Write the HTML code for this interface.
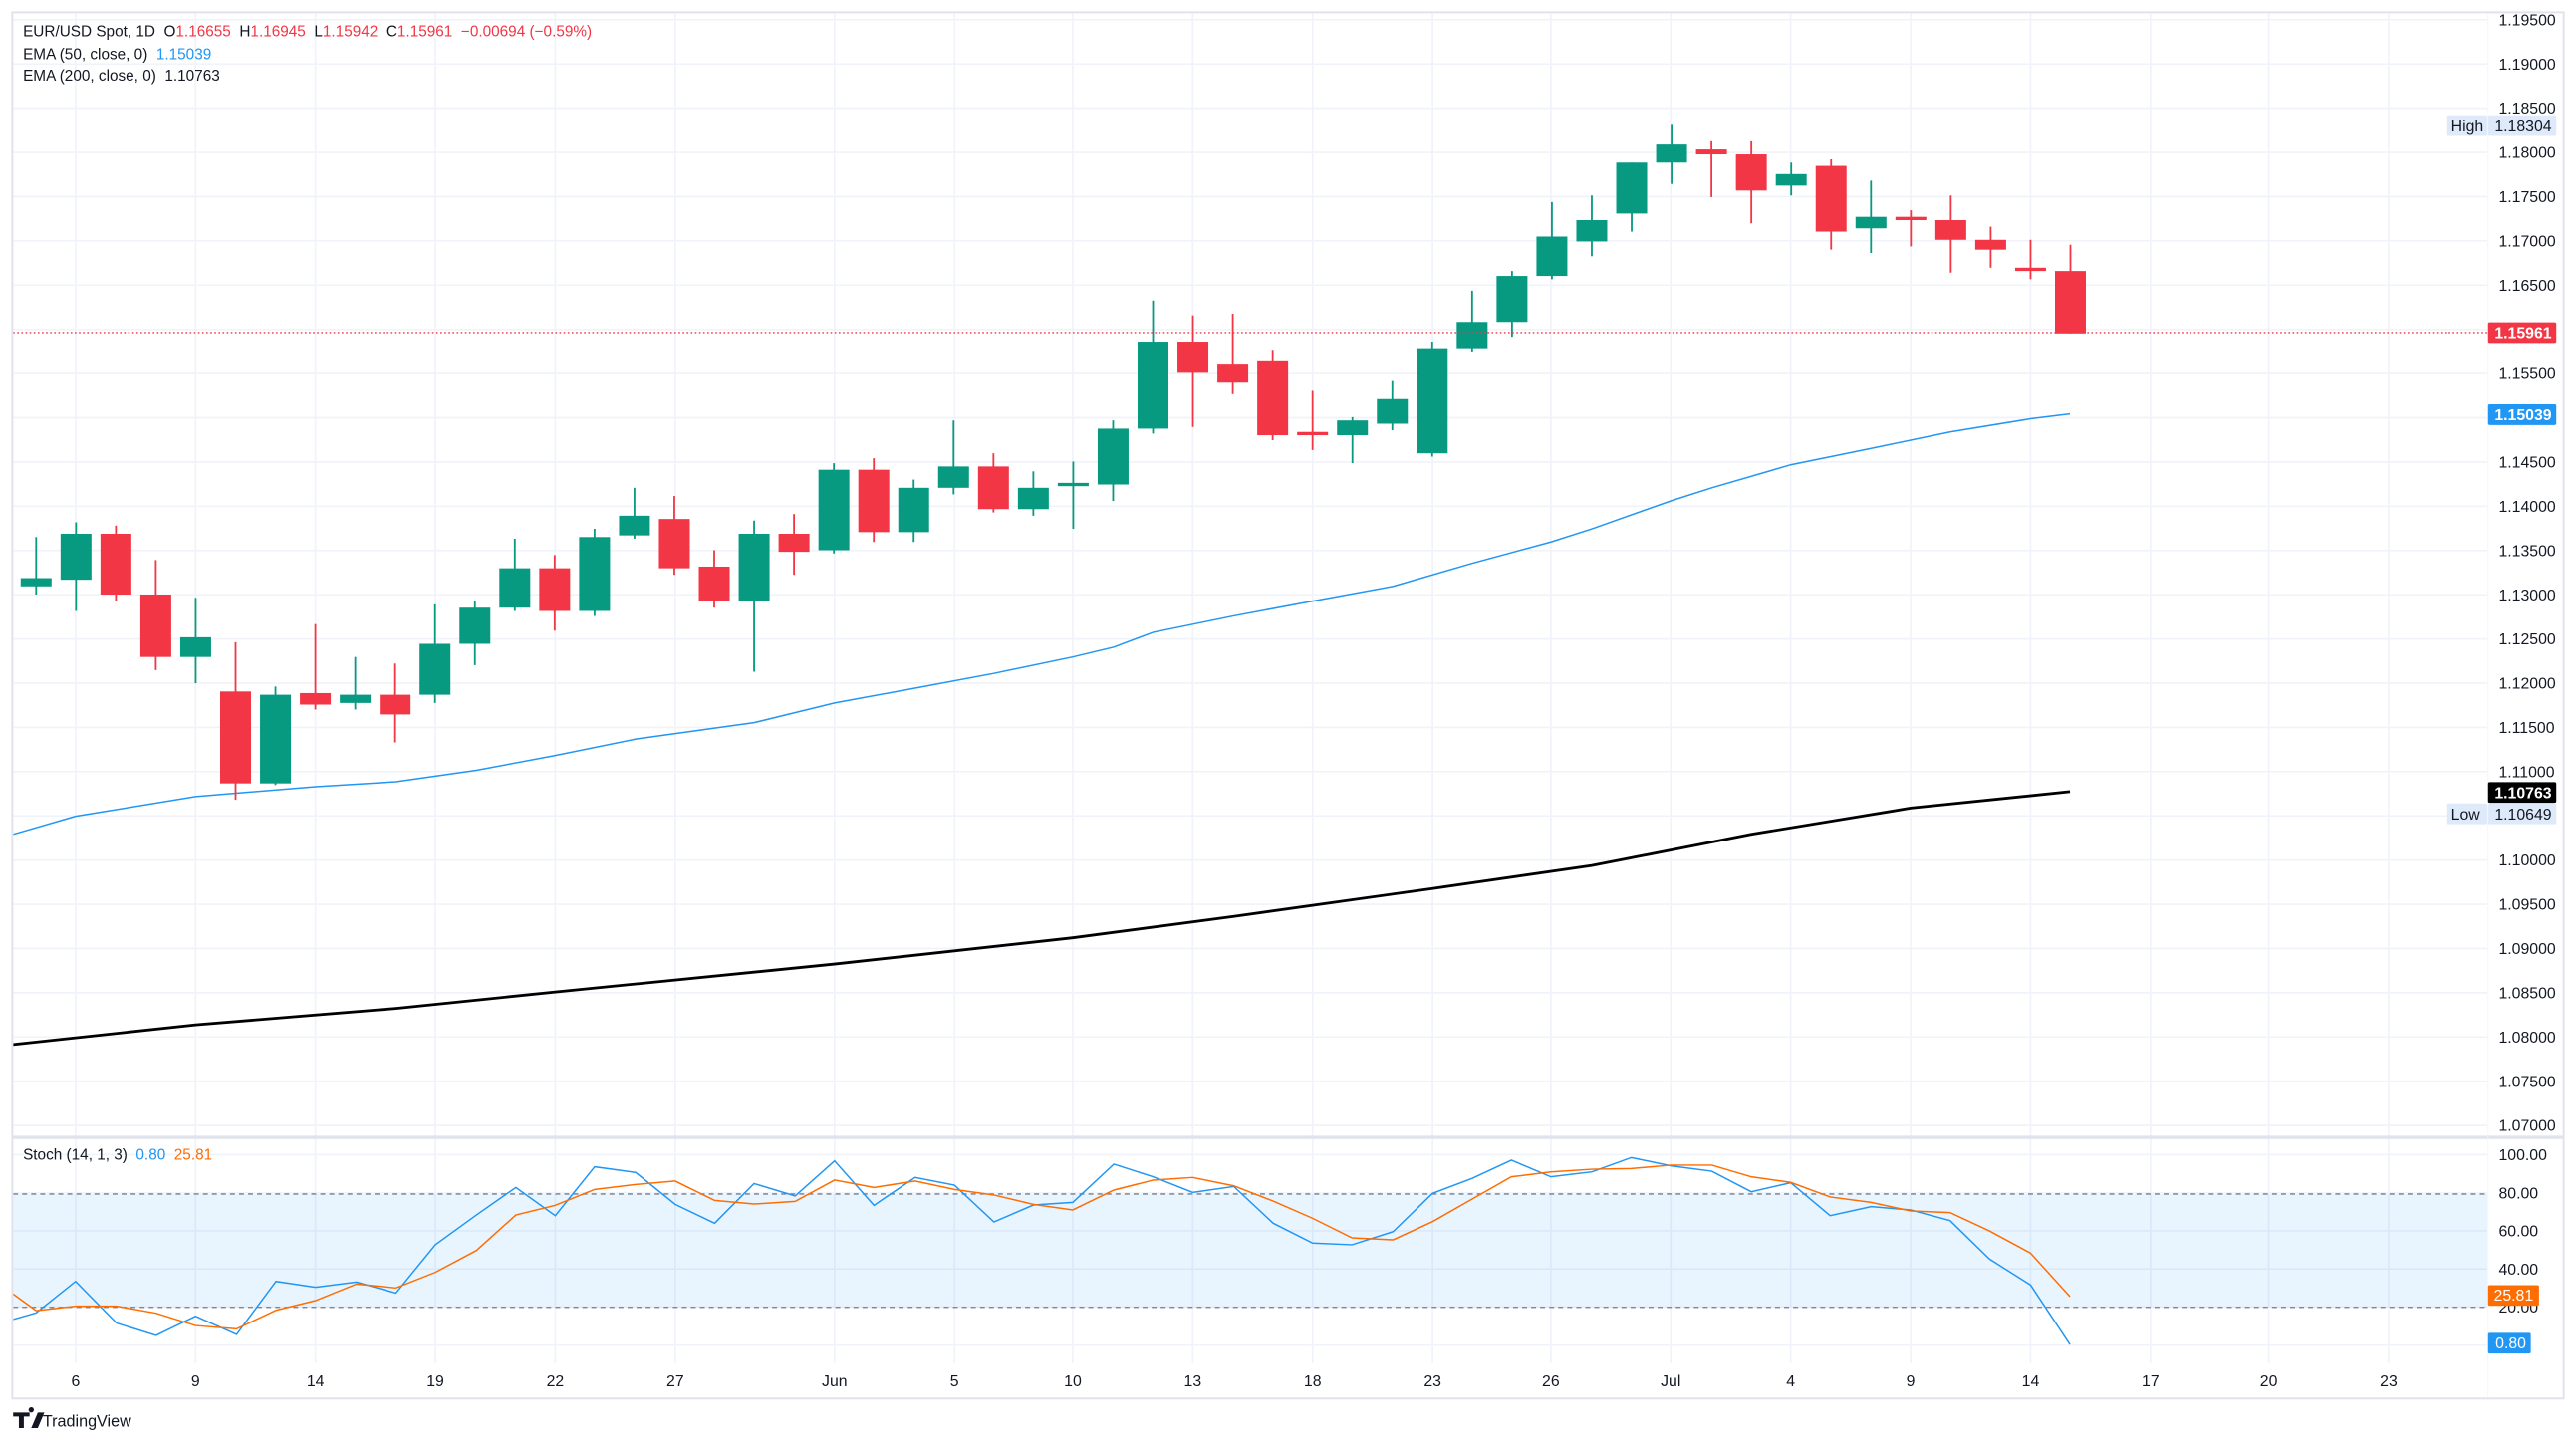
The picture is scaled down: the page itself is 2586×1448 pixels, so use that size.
<!DOCTYPE html>
<html><head><meta charset="utf-8"><style>
html,body{margin:0;padding:0;background:#fff;}
svg{display:block;}
text{font-family:"Liberation Sans",sans-serif;}
.pre{white-space:pre;}
</style></head><body>
<svg id="s" width="2586" height="1448" viewBox="0 0 1568 878" preserveAspectRatio="none" xmlns="http://www.w3.org/2000/svg">
<rect x="0" y="0" width="1568" height="878" fill="#fff"/>
<g id="grid"></g>
<rect x="8" y="727" width="1506" height="69" fill="#2196f3" fill-opacity="0.1"/>
<line x1="8" y1="727" x2="1514" y2="727" stroke="#787b86" stroke-width="0.8" stroke-dasharray="3,2.5"/>
<line x1="8" y1="796" x2="1514" y2="796" stroke="#787b86" stroke-width="0.8" stroke-dasharray="3,2.5"/>
<g id="ema"></g>
<g id="candles"></g>
<line x1="8" y1="202.5" x2="1514" y2="202.5" stroke="#f23645" stroke-width="0.8" stroke-dasharray="1,1.5"/>
<g id="stoch"></g>
<rect x="7.5" y="7.5" width="1553" height="844" fill="none" stroke="#e0e3eb" stroke-width="1.2"/>
<line x1="8" y1="692.5" x2="1560" y2="692.5" stroke="#e0e3eb" stroke-width="2"/>
<line x1="1514.5" y1="8" x2="1514.5" y2="851" stroke="#f0f3fa" stroke-width="0.5"/>
<g id="axis" font-size="9.6" fill="#131722"></g>
<g font-size="9.3">
<text class="pre" xml:space="preserve" x="14" y="22" fill="#131722">EUR/USD Spot, 1D  O<tspan fill="#f23645">1.16655</tspan>  H<tspan fill="#f23645">1.16945</tspan>  L<tspan fill="#f23645">1.15942</tspan>  C<tspan fill="#f23645">1.15961</tspan>  <tspan fill="#f23645">−0.00694 (−0.59%)</tspan></text>
<text class="pre" xml:space="preserve" x="14" y="36" fill="#131722">EMA (50, close, 0)  <tspan fill="#2196f3">1.15039</tspan></text>
<text class="pre" xml:space="preserve" x="14" y="49" fill="#131722">EMA (200, close, 0)  1.10763</text>
<text class="pre" xml:space="preserve" x="14" y="706" fill="#131722">Stoch (14, 1, 3)  <tspan fill="#2196f3">0.80</tspan>  <tspan fill="#ff6d00">25.81</tspan></text>
</g>
<g>
<path d="M8,860 h10 v2.5 h-3.5 v7 h-3 v-7 h-3.5z M19,860 a1.6,1.6 0 1 1 0.01,0z M23,860 h4 l-4,9.5 h-4z" fill="#131722"/>
<text x="26" y="868.5" font-size="9.8" fill="#131722">TradingView</text>
</g>
</svg>
<script>
const NS="http://www.w3.org/2000/svg";
function el(p,t,a,txt){const e=document.createElementNS(NS,t);for(const k in a)e.setAttribute(k,a[k]);if(txt!==undefined)e.textContent=txt;document.getElementById(p).appendChild(e);return e;}
const py=p=>12+(1.195-p)*5386;
for(let i=0;i<=25;i++){const p=1.195-i*0.005;const y=py(p);el('grid','line',{x1:8,x2:1514,y1:y,y2:y,stroke:'#f0f3fa','stroke-width':1});
 if(Math.abs(p-1.16)>1e-6&&Math.abs(p-1.15)>1e-6&&Math.abs(p-1.105)>1e-6) el('axis','text',{x:1521,y:y+3.4},p.toFixed(5));}
const sy=v=>819-v*1.16;
[100,80,60,40,20,0].forEach(v=>{const y=sy(v);el('grid','line',{x1:8,x2:1514,y1:y,y2:y,stroke:'#f0f3fa','stroke-width':1});
 if(v>0&&v!=20) el('axis','text',{x:1521,y:y+3.4},v.toFixed(2));});
el('axis','text',{x:1521,y:sy(20)+3.4},'20.00');
const dates=[[46,'6'],[119,'9'],[192,'14'],[265,'19'],[338,'22'],[411,'27'],[508,'Jun'],[581,'5'],[653,'10'],[726,'13'],[799,'18'],[872,'23'],[944,'26'],[1017,'Jul'],[1090,'4'],[1163,'9'],[1236,'14'],[1309,'17'],[1381,'20'],[1454,'23']];
dates.forEach(([x,t])=>{el('grid','line',{x1:x,x2:x,y1:8,y2:830,stroke:'#f0f3fa','stroke-width':1});el('axis','text',{x:x,y:844,'text-anchor':'middle'},t);});
const e50=[[8,508],[46,497],[119,485],[192,479],[241,476],[290,469],[338,460],[387,450],[459,440],[508,428],[557,419],[605,410],[653,400],[678,394],[702,385],[751,375],[799,366],[848,357],[896,343],[944,330],[969,322],[1017,305],[1042,297],[1090,283],[1139,273],[1187,263],[1236,255],[1260,252]];
const e200=[[8,636],[119,624],[241,614],[338,604],[508,587],[653,571],[751,558],[872,541],[969,527],[1066,508],[1163,492],[1260,482]];
el('ema','polyline',{points:e50.map(p=>p.join(',')).join(' '),fill:'none',stroke:'#2196f3','stroke-width':0.9});
el('ema','polyline',{points:e200.map(p=>p.join(',')).join(' '),fill:'none',stroke:'#000','stroke-width':1.7});
const C=[[357,352,327,362],[353,325,318,372],[325,362,320,366],[362,400,341,408],[400,388,364,416],[421,477,391,487],[477,423,418,478],[422,429,380,432],[428,423,400,432],[423,435,404,452],[423,392,368,428],[392,370,366,405],[370,346,328,372],[346,372,338,384],[372,327,322,375],[326,314,297,328],[316,346,302,350],[345,366,335,370],[366,325,317,409],[325,336,313,350],[335,286,282,337],[286,324,279,330],[324,297,292,330],[297,284,256,301],[284,310,276,312],[310,297,287,314],[296,294,281,322],[295,261,256,305],[261,208,183,264],[208,227,192,260],[222,233,191,240],[220,265,213,268],[263,265,238,274],[265,256,254,282],[258,243,232,262],[276,212,208,278],[212,196,177,214],[196,168,165,205],[168,144,123,170],[147,134,119,156],[130,99,99,141],[99,88,76,112],[91,94,86,120],[94,116,86,136],[113,106,99,119],[101,141,97,152],[139,132,110,154],[132,134,128,150],[134,146,119,166],[146,152,138,163],[163,165,146,170],[165,203,149,203]];
C.forEach((c,i)=>{const x=22+i*24.28;const g=c[1]<c[0];const col=g?'#089981':'#f23645';
 el('candles','line',{x1:x,x2:x,y1:c[2],y2:c[3],stroke:col,'stroke-width':1.1});
 const t=Math.min(c[0],c[1]),h=Math.max(Math.abs(c[1]-c[0]),1.2);
 el('candles','rect',{x:x-9.4,y:t,width:18.8,height:h,fill:col});});
const cv=zy=>(zy/3+1130)/1.6492;
const B=[[8,585],[22,565],[46,470],[71,596],[95,633],[119,575],[144,630],[168,470],[192,488],[217,472],[241,505],[265,360],[290,270],[314,187],[338,272],[362,125],[387,142],[411,238],[435,295],[459,175],[484,213],[508,107],[532,241],[557,157],[581,180],[605,291],[629,240],[653,232],[678,117],[702,155],[726,202],[751,184],[775,295],[799,355],[823,360],[848,320],[872,205],[896,160],[920,105],[944,155],[969,140],[993,97],[1017,122],[1042,138],[1066,200],[1090,173],[1114,272],[1139,245],[1163,255],[1187,287],[1211,403],[1236,481],[1260,660]];
const O=[[8,508],[22,558],[46,545],[71,545],[95,566],[119,603],[144,613],[168,557],[192,528],[217,478],[241,490],[265,443],[290,377],[314,270],[338,241],[362,193],[387,178],[411,168],[435,226],[459,237],[484,229],[508,165],[532,187],[557,168],[581,193],[605,210],[629,238],[653,255],[678,195],[702,165],[726,157],[751,182],[775,228],[799,280],[823,339],[848,345],[872,290],[896,222],[920,155],[944,140],[969,132],[993,130],[1017,120],[1042,120],[1066,155],[1090,172],[1114,216],[1139,232],[1163,258],[1187,263],[1211,318],[1236,385],[1260,516]];
el('stoch','polyline',{points:B.map(p=>p[0]+','+cv(p[1]).toFixed(1)).join(' '),fill:'none',stroke:'#2196f3','stroke-width':0.9});
el('stoch','polyline',{points:O.map(p=>p[0]+','+cv(p[1]).toFixed(1)).join(' '),fill:'none',stroke:'#ff6d00','stroke-width':0.9});
function box(y,bg,fg,txt,bold,pre){
 el('axis','rect',{x:1514.5,y:y-6.3,width:41.5,height:12.6,rx:1,fill:bg});
 el('axis','text',{x:1518.5,y:y+3.4,fill:fg,'font-weight':bold?'bold':'normal'},txt);
 if(pre){el('axis','rect',{x:1489,y:y-6.3,width:25,height:12.6,rx:1,fill:bg});el('axis','text',{x:1492,y:y+3.4,fill:'#131722'},pre);}
}
box(76.5,'#deeafa','#131722','1.18304',false,'High');
box(202.5,'#f23645','#fff','1.15961',true);
box(252.5,'#2196f3','#fff','1.15039',true);
box(482.5,'#000','#fff','1.10763',true);
box(495.5,'#deeafa','#131722','1.10649',false,'Low');
el('axis','rect',{x:1514.5,y:782.5,width:31,height:12.6,rx:1,fill:'#ff6d00'});
el('axis','text',{x:1518,y:792,fill:'#fff'},'25.81');
el('axis','rect',{x:1514.5,y:811.5,width:26,height:12.6,rx:1,fill:'#2196f3'});
el('axis','text',{x:1519,y:821,fill:'#fff'},'0.80');
</script>
</body></html>
